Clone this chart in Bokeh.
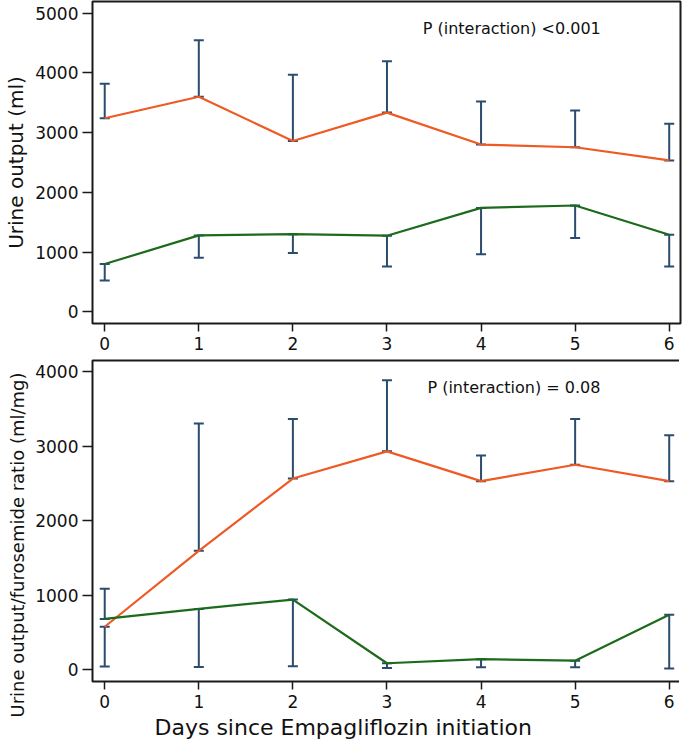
from bokeh.plotting import figure
from bokeh.models import Range1d, FixedTicker, Whisker, TeeHead, ColumnDataSource, Label, Title
from bokeh.layouts import column
from bokeh.embed import file_html
from bokeh.resources import INLINE

# ---------------- data ----------------
days = [0, 1, 2, 3, 4, 5, 6]
day_labels = ["0", "1", "2", "3", "4", "5", "6"]

# Panel A: urine output (ml)
uo_orange = [3240, 3600, 2860, 3335, 2800, 2755, 2535]
uo_orange_bound = [3820, 4545, 3970, 4195, 3520, 3370, 3150]
uo_green = [800, 1280, 1300, 1275, 1740, 1780, 1290]
uo_green_bound = [525, 905, 985, 760, 965, 1235, 760]
uo_ticks = [0, 1000, 2000, 3000, 4000, 5000]

# Panel B: urine output / furosemide ratio (ml/mg)
ratio_orange = [575, 1595, 2565, 2930, 2530, 2750, 2530]
ratio_orange_bound = [40, 3305, 3365, 3885, 2875, 3365, 3145]
ratio_green = [680, 815, 940, 85, 140, 120, 735]
ratio_green_bound = [1085, 35, 45, 20, 30, 30, 15]
ratio_ticks = [0, 1000, 2000, 3000, 4000]

# ---------------- style ----------------
FONT = "DejaVu Sans"
ORANGE = "#ef5a24"
GREEN = "#1c6b1c"
NAVY = "#2b4c6e"
FRAME = "#1a1a1a"
TXT = "#111111"
FRAME_W = 588


def panel(mean_o, bound_o, mean_g, bound_g, yr, yticks, ylabel, ylabel_size,
          ylabel_align, ylabel_offset, note, note_xy, frame_h, border_bottom,
          xlabel=None):
    p = figure(frame_width=FRAME_W, frame_height=frame_h,
               x_range=Range1d(-0.13, 6.12), y_range=Range1d(*yr),
               output_backend="svg", toolbar_location=None,
               min_border_left=0, min_border_right=2,
               min_border_top=1, min_border_bottom=border_bottom)
    p.xgrid.visible = False
    p.ygrid.visible = False
    p.outline_line_color = FRAME
    p.outline_line_width = 2
    p.background_fill_color = "white"
    p.border_fill_color = "white"

    for ax in (p.xaxis[0], p.yaxis[0]):
        ax.axis_line_color = None
        ax.major_tick_line_color = FRAME
        ax.major_tick_line_width = 1.5
        ax.major_tick_in = 0
        ax.minor_tick_line_color = None
        ax.major_label_text_font = FONT
        ax.major_label_text_font_size = "17px"
        ax.major_label_text_color = TXT
    p.xaxis.ticker = FixedTicker(ticks=days)
    p.xaxis.major_label_overrides = {d: s for d, s in zip(days, day_labels)}
    p.xaxis.major_tick_out = 8
    p.xaxis.major_label_standoff = 5
    p.yaxis.ticker = FixedTicker(ticks=yticks)
    p.yaxis.major_tick_out = 10
    p.yaxis.major_label_standoff = 4

    # y-axis title as a side title (so it can be shifted along the axis)
    p.add_layout(Title(text=ylabel, align=ylabel_align, offset=ylabel_offset,
                       vertical_align="top", standoff=6,
                       text_font=FONT, text_font_size=ylabel_size,
                       text_font_style="normal", text_color=TXT), "left")
    if xlabel:
        p.add_layout(Title(text=xlabel, align="left", offset=62, standoff=4,
                           text_font=FONT, text_font_size="22px",
                           text_font_style="normal", text_color=TXT), "below")

    # lines
    p.line(days, mean_o, line_color=ORANGE, line_width=2.2)
    p.line(days, mean_g, line_color=GREEN, line_width=2.2)

    # one-sided error bars (from mean to bound), capped at both ends
    for means, bounds in ((mean_o, bound_o), (mean_g, bound_g)):
        lo = [min(m, b) for m, b in zip(means, bounds)]
        hi = [max(m, b) for m, b in zip(means, bounds)]
        src = ColumnDataSource(dict(x=days, lo=lo, hi=hi))
        w = Whisker(base="x", lower="lo", upper="hi", source=src,
                    line_color=NAVY, line_width=2,
                    upper_head=TeeHead(size=10, line_color=NAVY, line_width=2),
                    lower_head=TeeHead(size=10, line_color=NAVY, line_width=2))
        p.add_layout(w)

    p.add_layout(Label(x=note_xy[0], y=note_xy[1], text=note,
                       text_font=FONT, text_font_size="16px", text_color=TXT,
                       text_align="left", text_baseline="middle"))
    return p


p1 = panel(uo_orange, uo_orange_bound, uo_green, uo_green_bound,
           (-195, 5195), uo_ticks, "Urine output (ml)", "20px", "center", 0,
           "P (interaction) <0.001", (3.38, 4745), 322, 36)

p2 = panel(ratio_orange, ratio_orange_bound, ratio_green, ratio_green_bound,
           (-160, 4150), ratio_ticks, "Urine output/furosemide ratio (ml/mg)", "18px",
           "left", -36,
           "P (interaction) = 0.08", (3.43, 3790), 321, 5,
           xlabel="Days since Empagliflozin initiation")

layout = column(p1, p2, spacing=0)
open("out.html", "w").write(file_html(layout, INLINE))
